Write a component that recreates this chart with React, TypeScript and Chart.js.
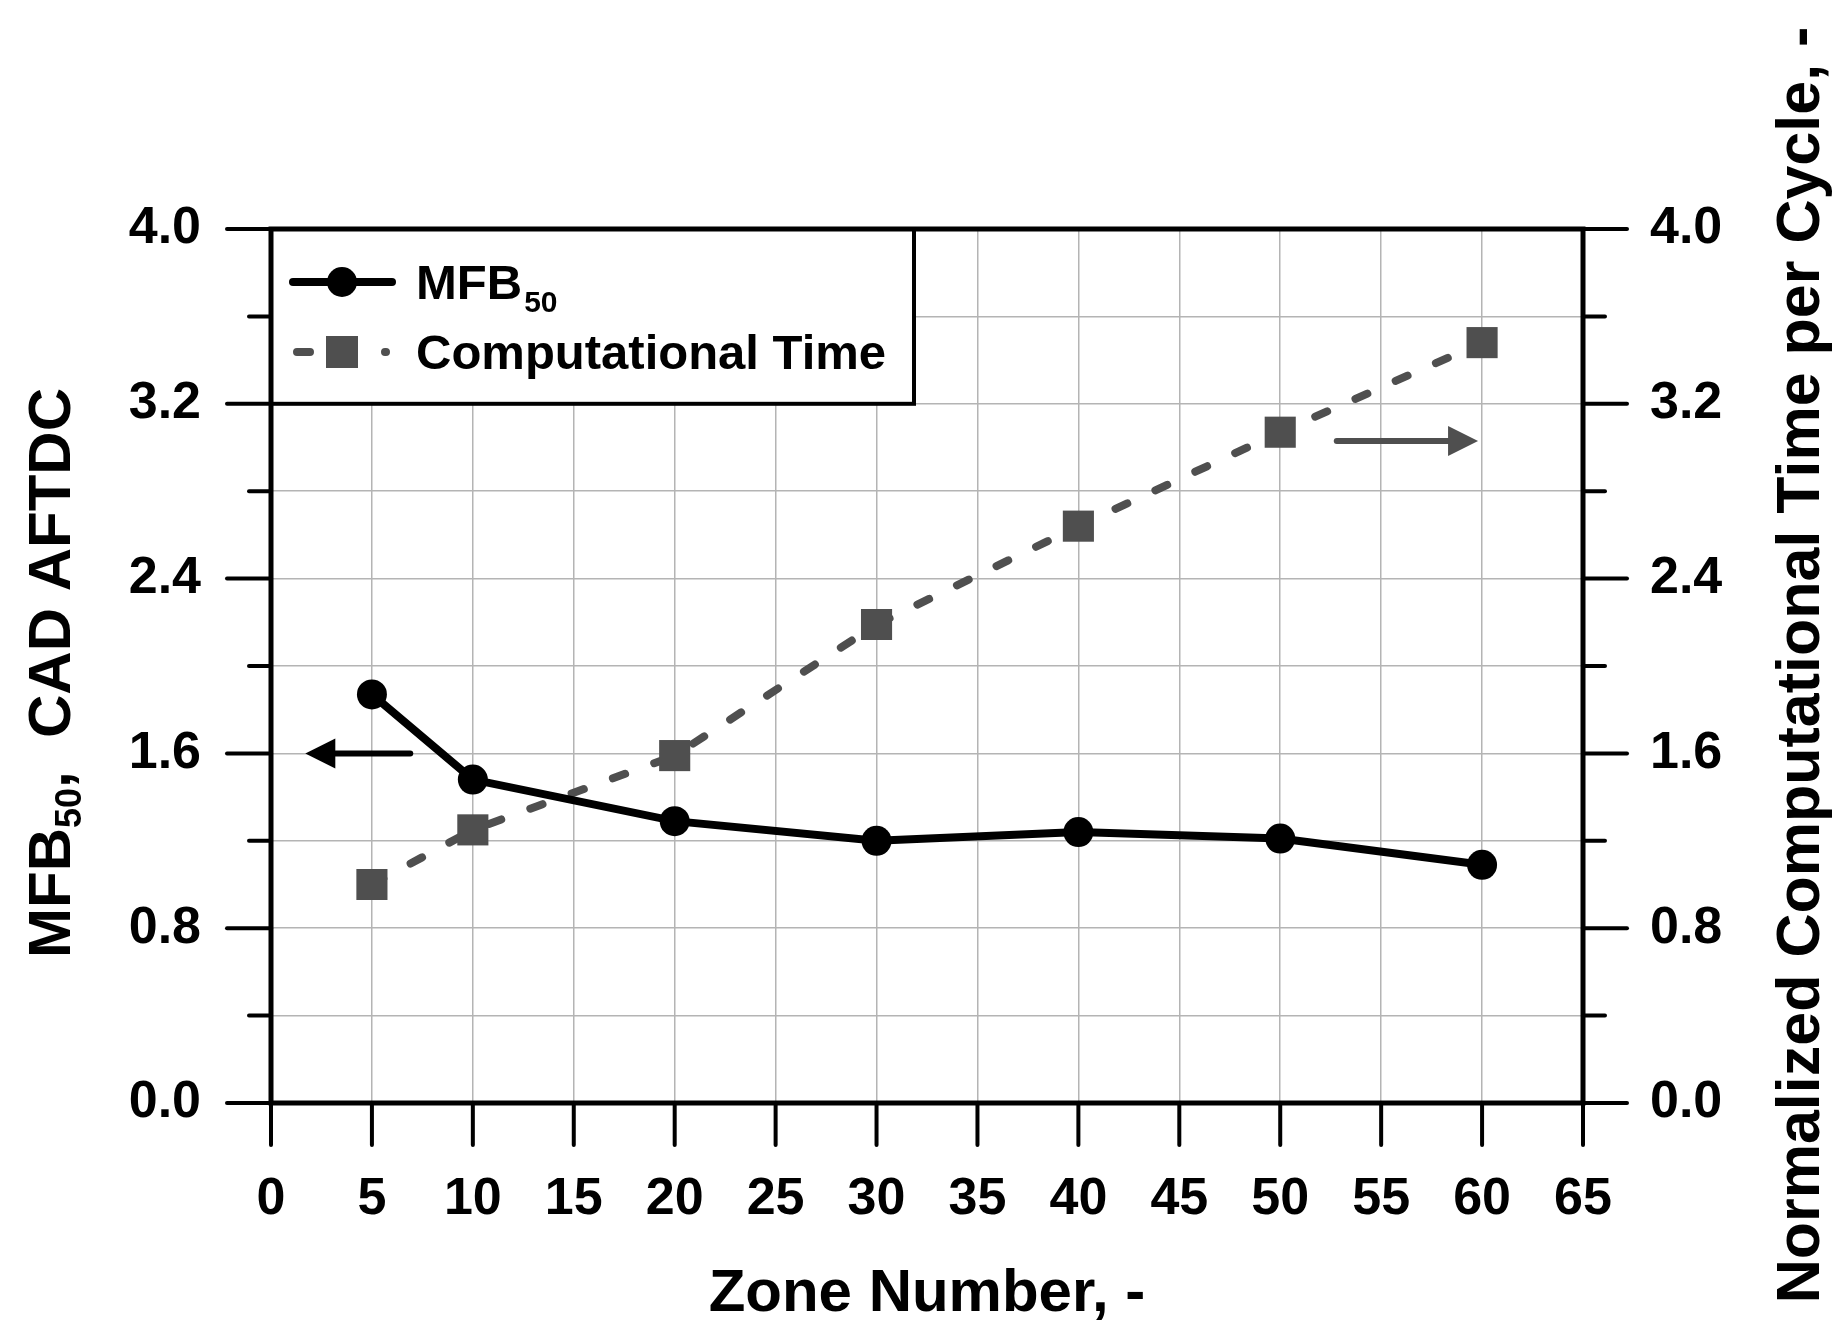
import React, { useEffect, useRef } from 'react';
import { Chart, registerables } from 'chart.js';

Chart.register(...registerables);

// ---- data ----
const zones = [5, 10, 20, 30, 40, 50, 60];
const mfb50 = [1.87, 1.48, 1.29, 1.2, 1.24, 1.21, 1.09];
const compTime = [1.0, 1.25, 1.59, 2.19, 2.64, 3.07, 3.48];

const xMin = 0;
const xMax = 65;
const xStep = 5;
const yMin = 0;
const yMax = 4.0;
const yStep = 0.4;
const yLabelStep = 0.8;

const xTitle = 'Zone Number, -';
const leftTitleParts = [
  { t: 'MFB', sub: false },
  { t: '50', sub: true },
  { t: ',  CAD AFTDC', sub: false },
];
const rightTitle = 'Normalized Computational Time per Cycle, -';
const legendLabels = ['MFB', '50', 'Computational Time'];

// arrows: [fromX, toX(tip), yValue]
const leftArrow = [6.9, 1.7, 1.6];
const rightArrow = [52.8, 59.8, 3.03];

const FONT = '"Liberation Sans", Arial, Helvetica, sans-serif';
const GRAY = '#4f4f4f';

const isMajor = (v: number) => Math.abs(v / yLabelStep - Math.round(v / yLabelStep)) < 1e-6;

function drawArrow(ctx: CanvasRenderingContext2D, x0: number, x1: number, y: number, color: string) {
  const dir = Math.sign(x1 - x0);
  const head = 30;
  const half = 15;
  ctx.strokeStyle = color;
  ctx.fillStyle = color;
  ctx.lineWidth = 6;
  ctx.lineCap = 'round';
  ctx.beginPath();
  ctx.moveTo(x0, y);
  ctx.lineTo(x1 - dir * head, y);
  ctx.stroke();
  ctx.beginPath();
  ctx.moveTo(x1, y);
  ctx.lineTo(x1 - dir * head, y - half);
  ctx.lineTo(x1 - dir * head, y + half);
  ctx.closePath();
  ctx.fill();
}

const decorPlugin = {
  id: 'decor',
  afterDatasetsDraw(chart: any) {
    const ctx: CanvasRenderingContext2D = chart.ctx;
    const { left, top } = chart.chartArea;
    const x = chart.scales.x;
    const y = chart.scales.y;
    ctx.save();
    // arrows
    drawArrow(ctx, x.getPixelForValue(leftArrow[0]), x.getPixelForValue(leftArrow[1]), y.getPixelForValue(leftArrow[2]), '#000');
    drawArrow(ctx, x.getPixelForValue(rightArrow[0]), x.getPixelForValue(rightArrow[1]), y.getPixelForValue(rightArrow[2]), GRAY);

    // legend box
    const bx1 = left + 643;
    const by1 = y.getPixelForValue(3.2);
    ctx.fillStyle = '#fff';
    ctx.fillRect(left, top, bx1 - left, by1 - top);
    ctx.strokeStyle = '#000';
    ctx.lineWidth = 4;
    ctx.strokeRect(left, top, bx1 - left, by1 - top);

    const r1 = top + 53;
    const r2 = top + 123;
    const sx0 = left + 22;
    const sx1 = left + 121;
    const mx = left + 71;
    // row 1
    ctx.strokeStyle = '#000';
    ctx.lineWidth = 8;
    ctx.lineCap = 'round';
    ctx.beginPath();
    ctx.moveTo(sx0, r1);
    ctx.lineTo(sx1, r1);
    ctx.stroke();
    ctx.fillStyle = '#000';
    ctx.beginPath();
    ctx.arc(mx, r1, 15, 0, Math.PI * 2);
    ctx.fill();
    // row 2
    ctx.strokeStyle = GRAY;
    ctx.setLineDash([13, 31]);
    ctx.beginPath();
    ctx.moveTo(left + 26, r2);
    ctx.lineTo(left + 115, r2);
    ctx.stroke();
    ctx.setLineDash([]);
    ctx.fillStyle = GRAY;
    ctx.fillRect(mx - 16, r2 - 16, 32, 32);

    // texts
    const tx = left + 145;
    ctx.fillStyle = '#000';
    ctx.textAlign = 'left';
    ctx.textBaseline = 'alphabetic';
    ctx.font = `bold 49px ${FONT}`;
    ctx.fillText(legendLabels[0], tx, r1 + 17);
    const w = ctx.measureText(legendLabels[0]).width;
    ctx.font = `bold 30px ${FONT}`;
    ctx.fillText(legendLabels[1], tx + w + 2, r1 + 30);
    ctx.font = `bold 49px ${FONT}`;
    ctx.fillText(legendLabels[2], tx, r2 + 17);
    ctx.restore();
  },
  afterDraw(chart: any) {
    const ctx: CanvasRenderingContext2D = chart.ctx;
    const { left, right, top, bottom } = chart.chartArea;
    const x = chart.scales.x;
    const y = chart.scales.y;
    const y2 = chart.scales.y2;
    ctx.save();
    ctx.strokeStyle = '#000';
    ctx.lineWidth = 4;
    ctx.lineCap = 'round';
    const seg = (a: number, b: number, c: number, d: number) => {
      ctx.beginPath();
      ctx.moveTo(a, b);
      ctx.lineTo(c, d);
      ctx.stroke();
    };
    x.ticks.forEach((t: any) => {
      const px = x.getPixelForValue(t.value);
      seg(px, bottom, px, bottom + 42);
    });
    y.ticks.forEach((t: any) => {
      const py = y.getPixelForValue(t.value);
      seg(left, py, left - (isMajor(t.value) ? 44 : 22), py);
    });
    y2.ticks.forEach((t: any) => {
      const py = y2.getPixelForValue(t.value);
      seg(right, py, right + (isMajor(t.value) ? 44 : 22), py);
    });
    // frame
    ctx.lineCap = 'butt';
    ctx.lineWidth = 5;
    ctx.strokeRect(left, top, right - left, bottom - top);

    // titles
    ctx.fillStyle = '#000';
    ctx.textBaseline = 'alphabetic';
    ctx.font = `bold 60px ${FONT}`;
    ctx.textAlign = 'center';
    ctx.fillText(xTitle, (left + right) / 2, bottom + 208);

    // left title (rotated)
    const cy = (top + bottom) / 2 + 7;
    ctx.save();
    ctx.translate(70, cy);
    ctx.rotate(-Math.PI / 2);
    ctx.textAlign = 'left';
    let total = 0;
    leftTitleParts.forEach((p) => {
      ctx.font = p.sub ? `bold 36px ${FONT}` : `bold 60px ${FONT}`;
      total += ctx.measureText(p.t).width;
    });
    let cx = -total / 2;
    leftTitleParts.forEach((p) => {
      ctx.font = p.sub ? `bold 36px ${FONT}` : `bold 60px ${FONT}`;
      ctx.fillText(p.t, cx, p.sub ? 11 : 0);
      cx += ctx.measureText(p.t).width;
    });
    ctx.restore();

    // right title
    ctx.save();
    ctx.translate(1819, (top + bottom) / 2 - 1);
    ctx.rotate(-Math.PI / 2);
    ctx.textAlign = 'center';
    ctx.font = `bold 61px ${FONT}`;
    ctx.fillText(rightTitle, 0, 0);
    ctx.restore();
    ctx.restore();
  },
};

export default function App() {
  const ref = useRef<HTMLCanvasElement>(null);
  useEffect(() => {
    document.body.style.margin = '0';
    const canvas = ref.current!;
    const tickFont = { family: FONT, size: 52, weight: 'bold' as const };
    const gridColor = '#b4b4b4';
    const chart = new Chart(canvas, {
      type: 'line',
      data: {
        datasets: [
          {
            label: 'MFB50',
            data: zones.map((z, i) => ({ x: z, y: mfb50[i] })),
            yAxisID: 'y',
            borderColor: '#000',
            backgroundColor: '#000',
            borderWidth: 8,
            pointRadius: 15,
            pointBackgroundColor: '#000',
            pointBorderWidth: 0,
            pointStyle: 'circle',
            order: 0,
          },
          {
            label: 'Computational Time',
            data: zones.map((z, i) => ({ x: z, y: compTime[i] })),
            yAxisID: 'y2',
            borderColor: GRAY,
            backgroundColor: GRAY,
            borderWidth: 8,
            borderDash: [13, 31],
            borderCapStyle: 'round',
            pointStyle: 'rect',
            pointRadius: 22,
            pointBackgroundColor: GRAY,
            pointBorderWidth: 0,
            order: 1,
          },
        ],
      },
      options: {
        responsive: false,
        animation: false,
        devicePixelRatio: 1,
        layout: { padding: { top: 229, left: 0, right: 0, bottom: 0 } },
        plugins: { legend: { display: false }, tooltip: { enabled: false } },
        scales: {
          x: {
            type: 'linear',
            min: xMin,
            max: xMax,
            border: { display: false },
            grid: { color: gridColor, lineWidth: 1.5, drawTicks: false },
            ticks: {
              stepSize: xStep,
              autoSkip: false,
              maxRotation: 0,
              padding: 65,
              color: '#000',
              font: tickFont,
            },
            afterFit: (s: any) => {
              s.height = 232;
            },
          },
          y: {
            type: 'linear',
            position: 'left',
            min: yMin,
            max: yMax,
            border: { display: false },
            grid: { color: gridColor, lineWidth: 1.5, drawTicks: false },
            ticks: {
              stepSize: yStep,
              autoSkip: false,
              padding: 70,
              color: '#000',
              font: tickFont,
              callback: (v: any) => (isMajor(Number(v)) ? Number(v).toFixed(1) : ''),
            },
            afterFit: (s: any) => {
              s.width = 271;
            },
          },
          y2: {
            type: 'linear',
            position: 'right',
            min: yMin,
            max: yMax,
            border: { display: false },
            grid: { display: false, drawTicks: false },
            ticks: {
              stepSize: yStep,
              autoSkip: false,
              padding: 67,
              color: '#000',
              font: tickFont,
              callback: (v: any) => (isMajor(Number(v)) ? Number(v).toFixed(1) : ''),
            },
            afterFit: (s: any) => {
              s.width = 262;
            },
          },
        },
      } as any,
      plugins: [decorPlugin],
    });
    return () => chart.destroy();
  }, []);
  return (
    <canvas
      ref={ref}
      width={1845}
      height={1335}
      style={{ display: 'block', width: 1845, height: 1335 }}
    />
  );
}
